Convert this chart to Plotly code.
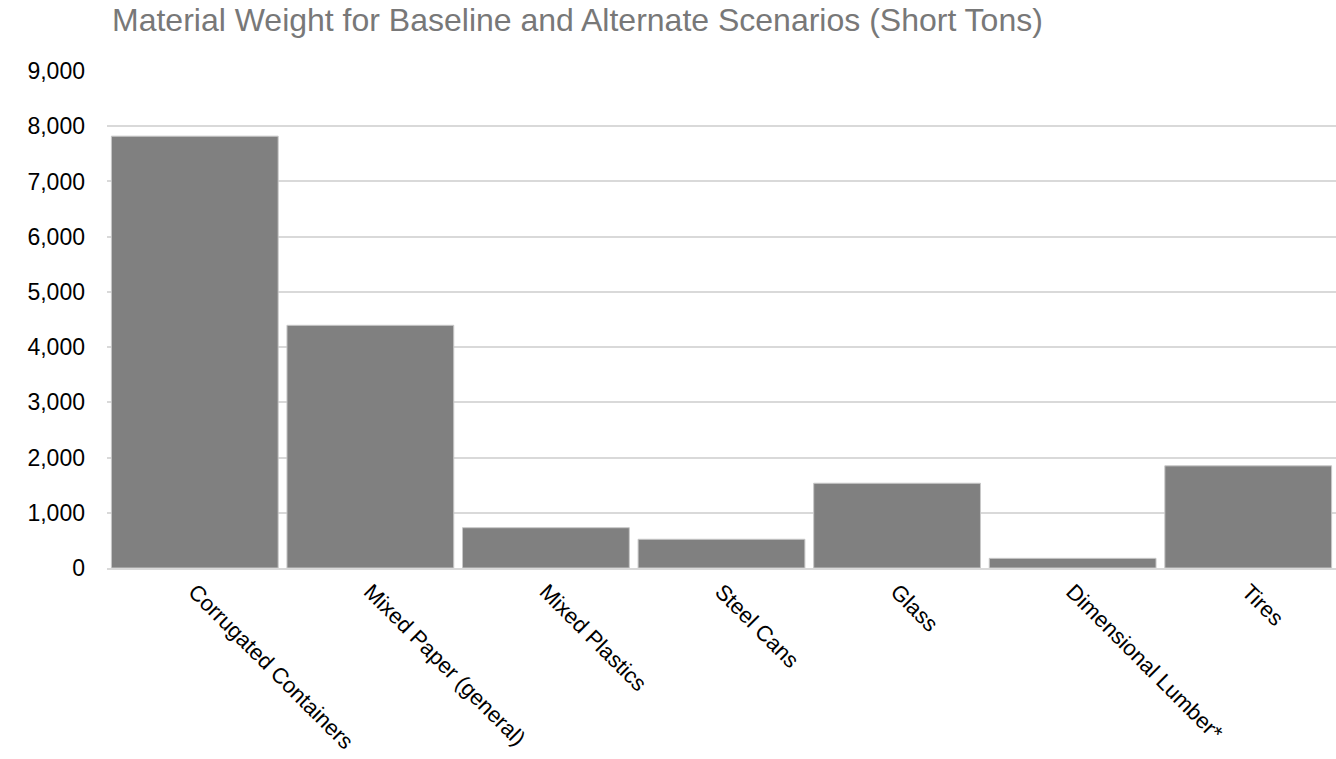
import plotly.graph_objects as go

categories = [
    "Corrugated Containers",
    "Mixed Paper (general)",
    "Mixed Plastics",
    "Steel Cans",
    "Glass",
    "Dimensional Lumber*",
    "Tires",
]
weights_short_tons = [7820, 4395, 730, 520, 1535, 175, 1850]
y_tick_values = [0, 1000, 2000, 3000, 4000, 5000, 6000, 7000, 8000, 9000]
y_tick_labels = ["0", "1,000", "2,000", "3,000", "4,000", "5,000",
                 "6,000", "7,000", "8,000", "9,000"]

FONT = "Liberation Sans, Arial, sans-serif"

fig = go.Figure(
    go.Bar(
        x=categories,
        y=weights_short_tons,
        marker=dict(color="#808080", line=dict(color="#c8c8c8", width=1)),
        hoverinfo="x+y",
    )
)

fig.update_layout(
    width=1336,
    height=759,
    margin=dict(l=107, r=0, t=71, b=191),
    paper_bgcolor="white",
    plot_bgcolor="white",
    bargap=0.05,
    showlegend=False,
    title=dict(
        text="Material Weight for Baseline and Alternate Scenarios (Short Tons)",
        font=dict(family=FONT, size=32, color="#787878"),
        x=112 / 1336,
        xref="container",
        xanchor="left",
        y=1 - 20 / 759,
        yref="container",
        yanchor="middle",
    ),
    xaxis=dict(
        tickangle=45,
        tickfont=dict(family=FONT, size=22, color="#000000"),
        showgrid=False,
        showline=True,
        linecolor="#d9d9d9",
        linewidth=2,
        ticks="",
    ),
    yaxis=dict(
        range=[0, 9000],
        tickvals=y_tick_values,
        ticktext=y_tick_labels,
        tickfont=dict(family=FONT, size=23, color="#000000"),
        showgrid=True,
        gridcolor="#d9d9d9",
        gridwidth=2,
        zeroline=False,
        showline=False,
        ticks="",
        ticklabelstandoff=21,
    ),
)

fig.write_html("out.html")
